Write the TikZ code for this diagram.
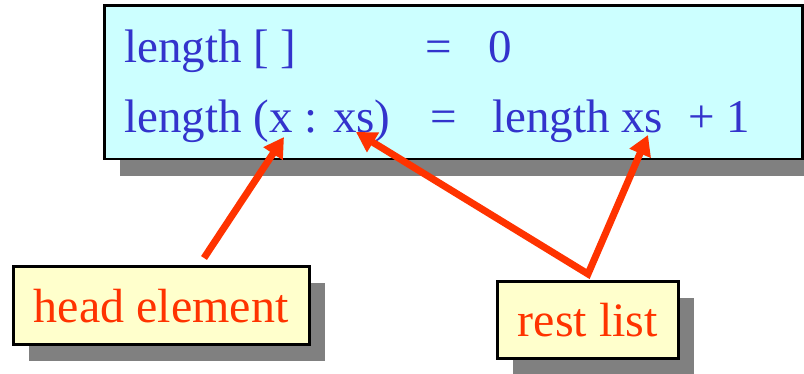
\documentclass[tikz,border=0pt]{standalone}
\usepackage{fontspec}
\setmainfont{Liberation Serif}
\usetikzlibrary{shadows,arrows.meta}
\definecolor{boxcyan}{HTML}{CCFFFF}
\definecolor{boxyellow}{HTML}{FFFFCC}
\definecolor{codeblue}{HTML}{3333CC}
\definecolor{labelred}{HTML}{FF3300}
\definecolor{shadowgray}{HTML}{808080}
\tikzset{
  hardshadow/.style={drop shadow={shadow xshift=16pt, shadow yshift=-16.5pt, fill=shadowgray, opacity=1}},
  mainbox/.style={draw=black, line width=2.5pt, fill=boxcyan, hardshadow, inner sep=0pt},
  labelbox/.style={draw=black, line width=2.5pt, fill=boxyellow, hardshadow, inner sep=0pt,
    text=labelred, font=\fontsize{48}{57}\selectfont},
  codetext/.style={anchor=base west, inner sep=0pt, text=codeblue, font=\fontsize{47}{56}\selectfont},
  pointer/.style={draw=labelred, line width=7pt, line join=miter,
    -{Triangle[length=20pt,width=22pt]}},
  pointertwo/.style={draw=labelred, line width=7pt, line join=miter,
    {Triangle[length=20pt,width=22pt]}-{Triangle[length=20pt,width=22pt]}}
}
\begin{document}
\begin{tikzpicture}[x=1pt,y=1pt]
\useasboundingbox (0,0) rectangle (804,374);
% main definition box
\node[mainbox, minimum width=698pt, minimum height=153.5pt, anchor=south west] (def) at (103,213.5) {};
\node[codetext] (l1a) at (124,311) {length [ ]};
\node[codetext] (l1b) at (425,311) {=};
\node[codetext] (l1c) at (488,311) {0};
\node[codetext] (l2a) at (124,241) {length (x : xs)};
\node[codetext] (l2b) at (430,241) {=};
\node[codetext] (l2c) at (492,241) {length xs};
\node[codetext] (l2d) at (688,241) {+ 1};
% label boxes
\node[labelbox, minimum width=296pt, minimum height=78pt, anchor=south west] (head) at (12,28) {head element};
\node[labelbox, minimum width=181pt, minimum height=77pt, anchor=south west] (rest) at (496,14) {rest list};
% arrow endpoints
\coordinate (tipx) at (284,237);
\coordinate (tipxs) at (356,242);
\coordinate (tipxsb) at (648,239);
\coordinate (tailhead) at (204,116);
\coordinate (tailrest) at (588,100);
% arrows
\draw[pointer] (tailhead) -- (tipx);
\draw[pointertwo] (tipxs) -- (tailrest) -- (tipxsb);
\end{tikzpicture}
\end{document}
